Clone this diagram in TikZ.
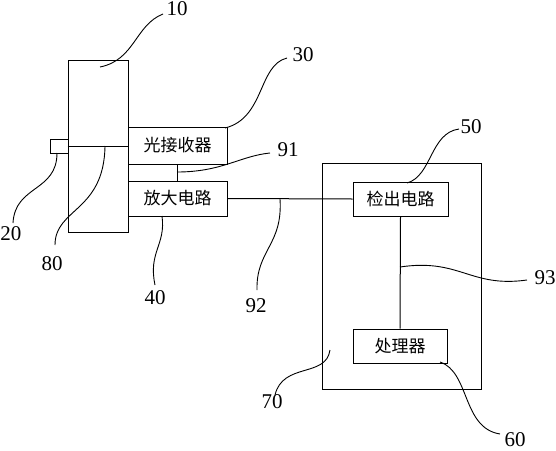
\documentclass[tikz,border=0pt]{standalone}
\usepackage{fontspec}
\setmainfont{Liberation Serif}
\newfontfamily\cjk{Noto Sans CJK SC}
\begin{document}
\begin{tikzpicture}[x=1pt,y=-1pt,
  blk/.style={draw,line width=1pt,rectangle,inner sep=0pt,font=\cjk\fontsize{17}{17}\selectfont},
  lbl/.style={inner sep=0pt,font=\fontsize{21}{21}\selectfont},
  wire/.style={line width=1pt},
  lead/.style={line width=0.9pt}]
\useasboundingbox (0,0) rectangle (556,450);
% boxes
\node[blk,minimum width=60pt,minimum height=172pt] (b10) at (98,146) {};
\node[blk,minimum width=18pt,minimum height=14pt] (b20) at (59,146) {};
\node[blk,minimum width=99pt,minimum height=37pt] (b30) at (177.5,145.5) {光接收器};
\node[blk,minimum width=99pt,minimum height=35pt] (b40) at (177.5,198.5) {放大电路};
\node[blk,minimum width=159pt,minimum height=226pt] (b70) at (401.5,276) {};
\node[blk,minimum width=95pt,minimum height=34pt] (b50) at (400.5,199) {检出电路};
\node[blk,minimum width=94pt,minimum height=34pt] (b60) at (400,346) {处理器};
% wires
\draw[wire] (b10.west) -- (b10.east);
\draw[wire] (b30.south -| 177,0) coordinate (w91a) -- (b40.north -| 177,0) coordinate (w91b);
\draw[wire] (b40.east) -- (b50.west);
\draw[wire] (b50.south) -- (b60.north);
% labels
\node[lbl] (l10) at (177,9) {10};
\node[lbl] (l30) at (303,55) {30};
\node[lbl] (l91) at (288,150) {91};
\node[lbl] (l20) at (11,234) {20};
\node[lbl] (l80) at (52,264) {80};
\node[lbl] (l40) at (155,298) {40};
\node[lbl] (l92) at (256,306) {92};
\node[lbl] (l50) at (471,127) {50};
\node[lbl] (l93) at (545,278) {93};
\node[lbl] (l70) at (272,402) {70};
\node[lbl] (l60) at (515,440) {60};
% leader ends
\coordinate (s10) at (163,14);   \coordinate (e10) at (100,67);
\coordinate (s30) at (287,58);   \coordinate (e30) at (225,128);
\coordinate (s91) at (270,153);  \coordinate (e91) at (177,172);
\coordinate (s20) at (13,223);   \coordinate (e20) at (57,153);
\coordinate (s80) at (55,245);   \coordinate (e80) at (105,146);
\coordinate (s40) at (155,285);  \coordinate (e40) at (162,216);
\coordinate (s92) at (257,290);  \coordinate (e92) at (280,199);
\coordinate (s50) at (459,129);  \coordinate (e50) at (407,183);
\coordinate (s93) at (527,280);  \coordinate (e93) at (400,267);
\coordinate (s70) at (275,395);  \coordinate (e70) at (330,350);
\coordinate (s60) at (500,434);  \coordinate (e60) at (440,362);
% leaders
\draw[lead] (s10) .. controls (135,25) and (135,60) .. (e10);
\draw[lead] (s30) .. controls (258,65) and (265,118) .. (e30);
\draw[lead] (s91) .. controls (240,156) and (222,172) .. (e91);
\draw[lead] (s20) .. controls (15,185) and (57,192) .. (e20);
\draw[lead] (s80) .. controls (55,208) and (104,212) .. (e80);
\draw[lead] (s40) .. controls (148,252) and (166,245) .. (e40);
\draw[lead] (s92) .. controls (256,250) and (283,245) .. (e92);
\draw[lead] (s50) .. controls (430,133) and (432,176) .. (e50);
\draw[lead] (s93) .. controls (470,288) and (460,258) .. (e93);
\draw[lead] (s70) .. controls (283,362) and (326,378) .. (e70);
\draw[lead] (s60) .. controls (462,428) and (470,372) .. (e60);
\end{tikzpicture}
\end{document}
